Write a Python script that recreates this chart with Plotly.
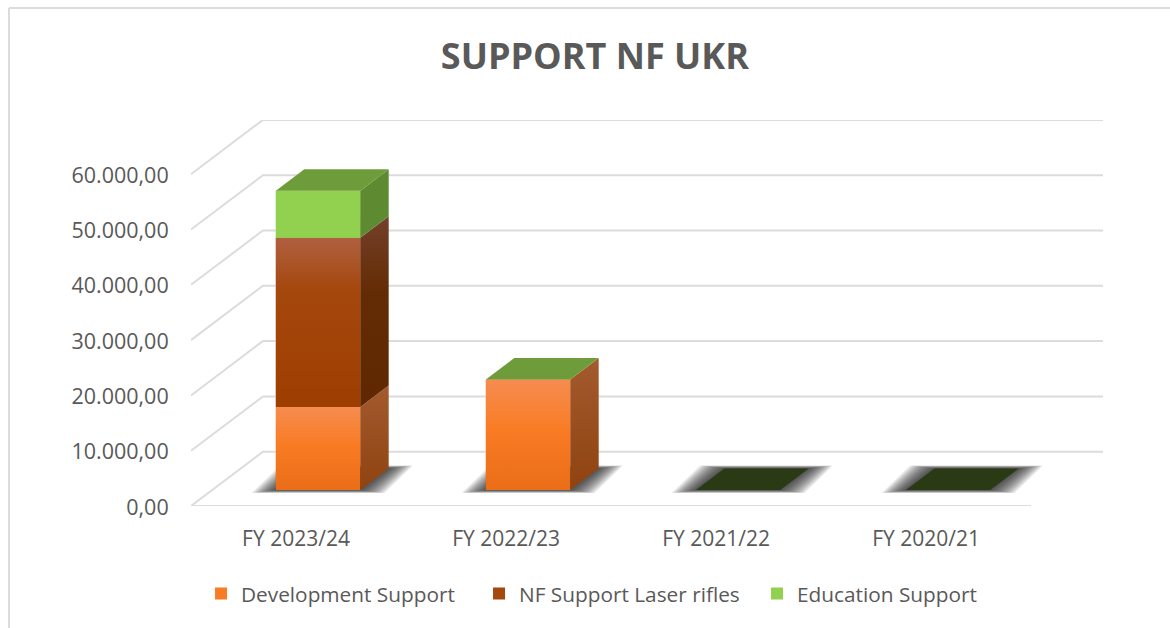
import plotly.graph_objects as go

# ---- data ----
categories = ["FY 2023/24", "FY 2022/23", "FY 2021/22", "FY 2020/21"]
series_names = ["Development Support", "NF Support Laser rifles", "Education Support"]
development = [15000, 20000, 0, 0]
rifles = [30600, 0, 0, 0]
education = [8500, 0, 0, 0]
y_ticks = [0, 10000, 20000, 30000, 40000, 50000, 60000]
y_labels = ["0,00", "10.000,00", "20.000,00", "30.000,00", "40.000,00", "50.000,00", "60.000,00"]

# ---- oblique projection (1 unit of depth = whole floor) ----
DX = 0.3425
DY = 9819
Y_MAX = 69800
BAR_W = 0.402
BAR_SHIFT = 0.004
BAR_D0 = 0.295
BAR_D1 = 0.69
GRID = "#dcdcdc"
TEXT = "#595959"


def proj(cat_x, value, depth):
    return cat_x + depth * DX, value + depth * DY


fig = go.Figure()


def poly(points, color=None, gradient=None):
    xs = [p[0] for p in points] + [points[0][0]]
    ys = [p[1] for p in points] + [points[0][1]]
    kw = dict(fillgradient=gradient) if gradient else dict(fillcolor=color)
    fig.add_trace(go.Scatter(x=xs, y=ys, mode="lines", line=dict(width=0), fill="toself",
                             showlegend=False, hoverinfo="skip", **kw))


stack = [development, rifles, education]
flat = ["#F97C25", "#A5480E", "#92D050"]

# legend-carrying base bars
n = len(categories)
base = [0] * n
for name, vals, col in zip(series_names, stack, flat):
    fig.add_trace(go.Bar(
        x=[proj(i + BAR_SHIFT, 0, BAR_D0)[0] for i in range(n)],
        y=vals, base=[b + BAR_D0 * DY for b in base], width=BAR_W, name=name,
        marker=dict(color=col, line=dict(width=0)), hoverinfo="skip"))
    base = [b + v for b, v in zip(base, vals)]

# walls / floor gridlines
for t in y_ticks:
    x0 = -0.5
    x1 = n - 0.5
    xa, ya = proj(x0, t, 0)
    xb, yb = proj(x0, t, 1)
    xc, yc = proj(x1, t, 1)
    fig.add_trace(go.Scatter(x=[xa, xb, xc], y=[ya, yb, yc], mode="lines",
                             line=dict(color=GRID, width=2), showlegend=False, hoverinfo="skip"))
xa, ya = proj(-0.5, 0, 0)
xb, yb = proj(n - 0.5, 0, 0)
fig.add_trace(go.Scatter(x=[xa, xb], y=[ya, yb], mode="lines",
                         line=dict(color=GRID, width=2), showlegend=False, hoverinfo="skip"))

# soft shadows on the floor
LAYERS = 12
for i in range(n):
    left = i + BAR_SHIFT - BAR_W / 2
    right = i + BAR_SHIFT + BAR_W / 2
    for k in range(LAYERS, 0, -1):
        e = k / LAYERS
        ex = 0.115 * e
        ey = 550 * e
        a = proj(left, 0, BAR_D0)
        b = proj(right, 0, BAR_D0)
        c = proj(right, 0, BAR_D1)
        d = proj(left, 0, BAR_D1)
        poly([(a[0] - ex, a[1] - ey), (b[0] + ex, b[1] - ey),
              (c[0] + ex, c[1] + ey), (d[0] - ex, d[1] + ey)],
             color="rgba(30,30,30,0.10)")

FRONT = [
    [[0, "#EA6D17"], [0.55, "#F97C25"], [1, "#F58C50"]],
    [[0, "#9E3D00"], [0.7, "#A5480E"], [1, "#B06040"]],
    [[0, "#92D050"], [1, "#92D050"]],
]
SIDE = [
    [[0, "#8F4310"], [1, "#A35A2E"]],
    [[0, "#602800"], [0.6, "#642C04"], [1, "#73402A"]],
    [[0, "#5E8A32"], [1, "#5E8A32"]],
]
TOP_COLOR = "#6F9C3B"
TOP_EMPTY = "#2A3A14"

base = [0] * n
for vals, fg, sg in zip(stack, FRONT, SIDE):
    for i in range(n):
        v = vals[i]
        if v <= 0:
            continue
        left = i + BAR_SHIFT - BAR_W / 2
        right = i + BAR_SHIFT + BAR_W / 2
        lo = base[i]
        hi = lo + v
        grad = dict(type="vertical", colorscale=fg)
        poly([proj(left, lo, BAR_D0), proj(right, lo, BAR_D0),
              proj(right, hi, BAR_D0), proj(left, hi, BAR_D0)], gradient=grad)
        poly([proj(right, lo, BAR_D0), proj(right, lo, BAR_D1),
              proj(right, hi, BAR_D1), proj(right, hi, BAR_D0)],
             gradient=dict(type="vertical", colorscale=sg))
    base = [b + v for b, v in zip(base, vals)]

for i in range(n):
    left = i + BAR_SHIFT - BAR_W / 2
    right = i + BAR_SHIFT + BAR_W / 2
    h = base[i]
    poly([proj(left, h, BAR_D0), proj(right, h, BAR_D0),
          proj(right, h, BAR_D1), proj(left, h, BAR_D1)],
         color=TOP_COLOR if h > 0 else TOP_EMPTY)

fig.update_layout(
    width=1170, height=628,
    margin=dict(l=191, r=67, t=120, b=122),
    paper_bgcolor="white", plot_bgcolor="white",
    font=dict(family="Open Sans", color=TEXT, size=21),
    barmode="overlay",
    title=dict(text="<b>SUPPORT NF UKR</b>", x=0.5085, xanchor="center", y=0.91, yanchor="middle",
               font=dict(size=36, color=TEXT, family="Open Sans")),
    xaxis=dict(range=[-0.5, n - 0.5 + DX], tickvals=list(range(n)), ticktext=categories,
               showgrid=False, zeroline=False, showline=False, ticks="outside",
               ticklen=14, tickcolor="rgba(0,0,0,0)", tickfont=dict(size=21, color=TEXT)),
    yaxis=dict(range=[0, Y_MAX], tickvals=y_ticks, ticktext=y_labels, showgrid=False,
               zeroline=False, showline=False, ticks="outside", ticklen=17,
               tickcolor="rgba(0,0,0,0)", tickfont=dict(size=21.5, color=TEXT),
               ticklabelshift=1),
    legend=dict(orientation="h", x=0.011, xanchor="left", y=-0.228, yanchor="middle",
                font=dict(size=20.8, color=TEXT), entrywidth=233, entrywidthmode="pixels",
                traceorder="normal", itemclick=False, itemdoubleclick=False),
    shapes=[
        dict(type="line", xref="paper", yref="paper", x0=(9 - 191) / 912, x1=(1170 - 191) / 912,
             y0=(506 - 8) / 386, y1=(506 - 8) / 386, line=dict(color=GRID, width=2)),
        dict(type="line", xref="paper", yref="paper", x0=(9 - 191) / 912, x1=(9 - 191) / 912,
             y0=(506 - 8) / 386, y1=(506 - 628) / 386, line=dict(color=GRID, width=2)),
    ],
)

fig.write_html("out.html", post_script="document.body.style.margin='0';",
               config={"displayModeBar": False})
